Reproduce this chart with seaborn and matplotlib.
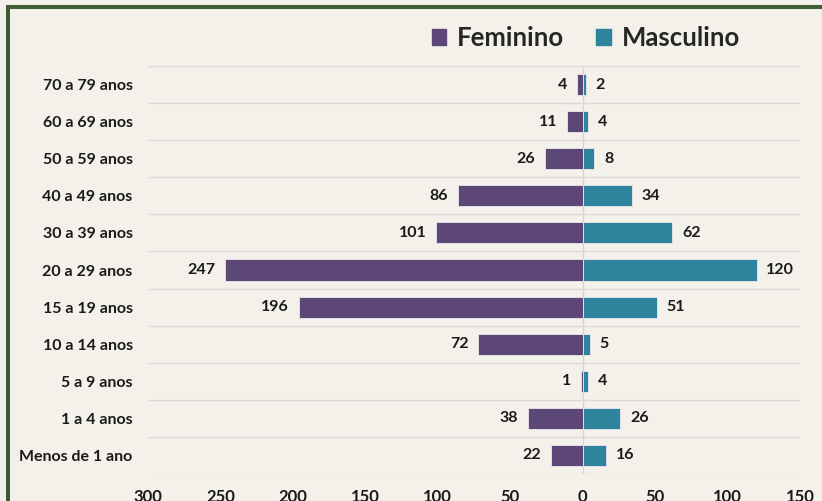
import matplotlib
matplotlib.use('Agg')
import matplotlib.pyplot as plt
import matplotlib.patches as mpatches
from matplotlib.ticker import FuncFormatter, FixedLocator
import pandas as pd
import seaborn as sns

# faixas etárias (de cima para baixo) e casos por sexo
faixas = ['70 a 79 anos', '60 a 69 anos', '50 a 59 anos', '40 a 49 anos',
          '30 a 39 anos', '20 a 29 anos', '15 a 19 anos', '10 a 14 anos',
          '5 a 9 anos', '1 a 4 anos', 'Menos de 1 ano']
feminino = [4, 11, 26, 86, 101, 247, 196, 72, 1, 38, 22]
masculino = [2, 4, 8, 34, 62, 120, 51, 5, 4, 26, 16]
x_ticks = [-300, -250, -200, -150, -100, -50, 0, 50, 100, 150]

bg = '#f4f1eb'
cor_fem = '#5d4777'
cor_masc = '#2e849c'
verde = '#3d5b35'

sns.set_style('white')
plt.rcParams['font.family'] = ['Lato', 'DejaVu Sans']
plt.rcParams['font.weight'] = 'bold'

df = pd.DataFrame({
    'faixa': faixas * 2,
    'valor': [-v for v in feminino] + masculino,
    'sexo': ['Feminino'] * len(faixas) + ['Masculino'] * len(faixas),
})

fig = plt.figure(figsize=(8.22, 5.01), dpi=100, facecolor=bg)
ax = fig.add_axes([148 / 822, 1 - 474 / 501, 652 / 822, 408 / 501])
ax.set_facecolor(bg)

sns.barplot(data=df, x='valor', y='faixa', hue='sexo', order=faixas,
            palette={'Feminino': cor_fem, 'Masculino': cor_masc},
            dodge=False, orient='h', width=0.57, ax=ax, saturation=1,
            edgecolor='#ece8f0', linewidth=0.6, legend=False)

# rótulos de valores
for i, (f, m) in enumerate(zip(feminino, masculino)):
    ax.annotate(str(f), (-f, i), xytext=(-7, 0), textcoords='offset points',
                ha='right', va='center', fontsize=11.5, fontweight='bold', color='#1a1a1a')
    ax.annotate(str(m), (m, i), xytext=(7, 0), textcoords='offset points',
                ha='left', va='center', fontsize=11.5, fontweight='bold', color='#1a1a1a')

ax.set_xlim(-300, 150)
ax.set_ylim(10.5, -0.5)
ax.xaxis.set_major_locator(FixedLocator(x_ticks))
ax.xaxis.set_major_formatter(FuncFormatter(lambda v, p: f'{abs(int(v))}'))
ax.yaxis.set_minor_locator(FixedLocator([i - 0.5 for i in range(len(faixas) + 1)]))
ax.grid(which='minor', axis='y', color='#dcdad5', linewidth=1)
ax.grid(which='major', visible=False)
ax.axvline(0, color='#d5d3cf', linewidth=1, zorder=0.5)
ax.set_axisbelow(True)
ax.set_xlabel('')
ax.set_ylabel('')
ax.tick_params(axis='x', length=0, pad=11, labelsize=12, colors='#1a1a1a')
ax.tick_params(axis='y', which='both', length=0, pad=11, labelsize=11.5, colors='#1a1a1a')
for lab in ax.get_xticklabels() + ax.get_yticklabels():
    lab.set_fontweight('bold')
for s in ax.spines.values():
    s.set_visible(False)

# legenda
handles = [mpatches.Patch(color=cor_fem, label='Feminino'),
           mpatches.Patch(color=cor_masc, label='Masculino')]
fig.legend(handles=handles, loc='center', bbox_to_anchor=(586 / 822, 1 - 38 / 501),
           ncol=2, frameon=False, handlelength=0.55, handleheight=0.55,
           handletextpad=0.45, columnspacing=1.25, prop={'weight': 'bold', 'size': 18.5})

# moldura verde
fig.patches.append(mpatches.Rectangle((8 / 822, -0.2), 1.2, 1.2 - 7 / 501,
                                      transform=fig.transFigure, fill=False,
                                      edgecolor=verde, linewidth=2.9))

fig.savefig('out.png', dpi=100, facecolor=bg)
